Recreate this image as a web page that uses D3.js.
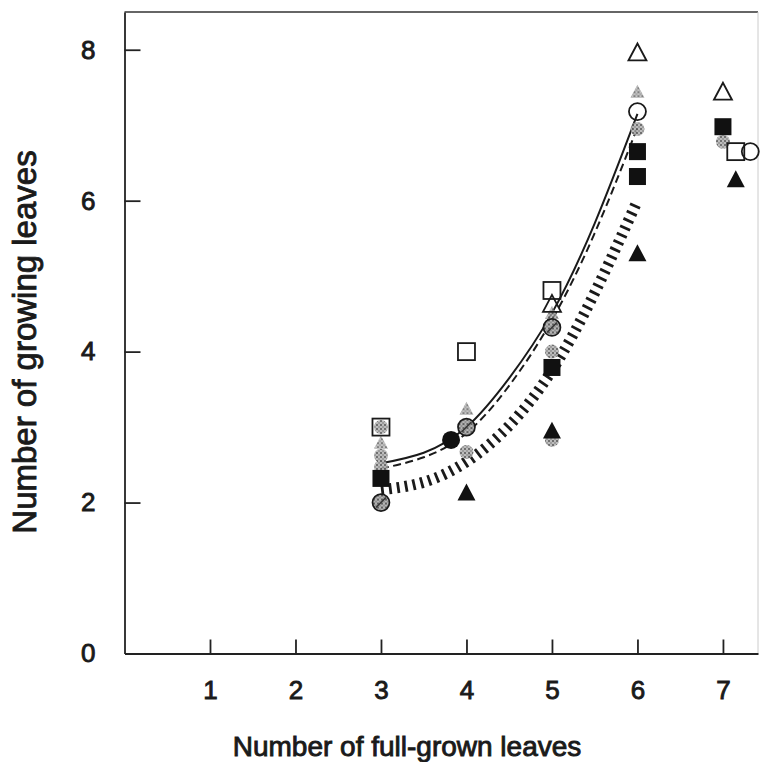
<!DOCTYPE html>
<html><head><meta charset="utf-8">
<script src="https://cdn.jsdelivr.net/npm/d3@7"></script>
<style>html,body{margin:0;padding:0;background:#fff;}svg{display:block;}</style>
</head><body>
<script>
// ---- data ----
const xTicks = [1, 2, 3, 4, 5, 6, 7];
const yTicks = [0, 2, 4, 6, 8];
const xTitle = "Number of full-grown leaves";
const yTitle = "Number of growing leaves";

const openSquares = [[3, 3.0], [4, 4.0], [5, 4.81], [7.15, 6.65]];
const openTriangles = [[5, 4.64], [6, 7.97], [7, 7.45]];
const openCircles = [[6, 7.18], [7.32, 6.65]];
const filledSquares = [[3, 2.32], [5, 3.79], [6, 6.65], [6, 6.32], [7, 6.98]];
const filledTriangles = [[4, 2.14], [5, 2.96], [6, 5.31], [7.15, 6.29]];
const filledCircles = [[3.82, 2.83]];
const hatchedCircles = [[3, 2.0], [4, 3.0], [5, 4.32]];
const grayTriangles = [[3, 2.8], [4, 3.25], [5, 4.52], [6, 7.45]];
const grayBlobs = [[3, 2.62], [3, 2.47], [4, 2.67], [5, 4.0], [5, 2.83], [6, 6.95], [7, 6.78], [3, 3.0]];

const fitX = [3, 3.5, 4, 4.5, 5, 5.5, 6];
const solidFit = [2.52, 2.66, 3.0, 3.65, 4.51, 5.70, 7.15];
const dashedFit = [2.45, 2.60, 2.92, 3.55, 4.42, 5.57, 6.97];
const dottedFit = [2.17, 2.27, 2.54, 3.02, 3.75, 4.78, 6.0];

// ---- layout ----
const W = 761, H = 762;
const FONT = "Liberation Sans, Arial, Helvetica, sans-serif";
const svg = d3.select("body").append("svg").attr("width", W).attr("height", H);
const x = d3.scaleLinear().domain([0, 7.41]).range([124.5, 758]);
const y = d3.scaleLinear().domain([0, 8.5]).range([653.5, 12]);

const defs = svg.append("defs");
const pat = defs.append("pattern").attr("id", "stip").attr("patternUnits", "userSpaceOnUse")
  .attr("width", 4).attr("height", 4);
pat.append("rect").attr("width", 4).attr("height", 4).attr("fill", "#b5b5b5");
pat.append("circle").attr("cx", 1).attr("cy", 1).attr("r", 1).attr("fill", "#444");
pat.append("circle").attr("cx", 3).attr("cy", 3).attr("r", 0.8).attr("fill", "#666");

// frame
svg.append("line").attr("x1", x(0)).attr("x2", x(7.41)).attr("y1", y(8.5)).attr("y2", y(8.5))
  .attr("stroke", "#333").attr("stroke-width", 1.6);
svg.append("line").attr("x1", x(7.41)).attr("x2", x(7.41)).attr("y1", y(8.5)).attr("y2", y(0))
  .attr("stroke", "#ccc").attr("stroke-width", 1);

// axes
const xAxis = svg.append("g").attr("transform", `translate(0,${y(0)})`)
  .call(d3.axisBottom(x).tickValues(xTicks).tickSize(-14).tickSizeOuter(0).tickPadding(27).tickFormat(d3.format("d")));
const yAxis = svg.append("g").attr("transform", `translate(${x(0)},0)`)
  .call(d3.axisLeft(y).tickValues(yTicks).tickSize(-16).tickSizeOuter(0).tickPadding(29).tickFormat(d3.format("d")));
[xAxis, yAxis].forEach(g => {
  g.select(".domain").attr("stroke", "#222").attr("stroke-width", 1.8);
  g.selectAll(".tick line").attr("stroke", "#222").attr("stroke-width", 1.8);
  g.selectAll(".tick text").attr("fill", "#1a1a1a").style("font-family", FONT)
    .style("font-size", "26px").attr("stroke", "#1a1a1a").attr("stroke-width", 0.9);
});
yAxis.selectAll(".tick").filter(d => d === 0).select("line").remove();

// titles
svg.append("text").attr("x", 407).attr("y", 756).attr("text-anchor", "middle")
  .style("font-family", FONT).style("font-size", "28px")
  .attr("fill", "#1a1a1a").attr("stroke", "#1a1a1a").attr("stroke-width", 0.9).text(xTitle);
svg.append("text").attr("transform", `translate(36,342) rotate(-90)`).attr("text-anchor", "middle")
  .style("font-family", FONT).style("font-size", "33px")
  .attr("fill", "#1a1a1a").attr("stroke", "#1a1a1a").attr("stroke-width", 0.9).text(yTitle);

// fitted curves
const fitLine = vals => d3.line().x((d, i) => x(fitX[i])).y(d => y(d)).curve(d3.curveNatural)(vals);
svg.append("path").attr("d", fitLine(dottedFit)).attr("fill", "none").attr("stroke", "#1a1a1a")
  .attr("stroke-width", 11).attr("stroke-dasharray", "2.8,5.2");
svg.append("path").attr("d", fitLine(dashedFit)).attr("fill", "none").attr("stroke", "#1a1a1a")
  .attr("stroke-width", 2).attr("stroke-dasharray", "8,4.5");
svg.append("path").attr("d", fitLine(solidFit)).attr("fill", "none").attr("stroke", "#1a1a1a")
  .attr("stroke-width", 2);

// markers
const tri = (s) => `M0,${-s * 0.47}L${s / 2},${s * 0.47}L${-s / 2},${s * 0.47}Z`;
const gm = svg.append("g");

gm.selectAll(".gblob").data(grayBlobs).join("circle")
  .attr("cx", d => x(d[0])).attr("cy", d => y(d[1])).attr("r", 7)
  .attr("fill", "url(#stip)").attr("opacity", 0.9);
gm.selectAll(".gtri").data(grayTriangles).join("path")
  .attr("transform", d => `translate(${x(d[0])},${y(d[1])})`).attr("d", tri(14))
  .attr("fill", "url(#stip)").attr("opacity", 0.8);

gm.selectAll(".hc").data(hatchedCircles).join("g")
  .attr("transform", d => `translate(${x(d[0])},${y(d[1])})`)
  .each(function () {
    const g = d3.select(this);
    g.append("circle").attr("r", 8.5).attr("fill", "url(#stip)").attr("stroke", "#1a1a1a").attr("stroke-width", 1.7);
    g.append("line").attr("x1", -5).attr("y1", 5).attr("x2", 5).attr("y2", -5).attr("stroke", "#333").attr("stroke-width", 1.5);
  });

gm.selectAll(".os").data(openSquares).join("rect")
  .attr("x", d => x(d[0]) - 8.5).attr("y", d => y(d[1]) - 8.5).attr("width", 17).attr("height", 17)
  .attr("fill", "none").attr("stroke", "#1a1a1a").attr("stroke-width", 1.8);
gm.selectAll(".ot").data(openTriangles).join("path")
  .attr("transform", d => `translate(${x(d[0])},${y(d[1])})`).attr("d", tri(18))
  .attr("fill", "none").attr("stroke", "#1a1a1a").attr("stroke-width", 1.8);
gm.selectAll(".oc").data(openCircles).join("circle")
  .attr("cx", d => x(d[0])).attr("cy", d => y(d[1])).attr("r", 8.5)
  .attr("fill", "none").attr("stroke", "#1a1a1a").attr("stroke-width", 1.8);
gm.selectAll(".fs").data(filledSquares).join("rect")
  .attr("x", d => x(d[0]) - 8.5).attr("y", d => y(d[1]) - 8.5).attr("width", 17).attr("height", 17)
  .attr("fill", "#111");
gm.selectAll(".ft").data(filledTriangles).join("path")
  .attr("transform", d => `translate(${x(d[0])},${y(d[1])})`).attr("d", tri(18))
  .attr("fill", "#111");
gm.selectAll(".fc").data(filledCircles).join("circle")
  .attr("cx", d => x(d[0])).attr("cy", d => y(d[1])).attr("r", 9).attr("fill", "#111");
</script>
</body></html>
